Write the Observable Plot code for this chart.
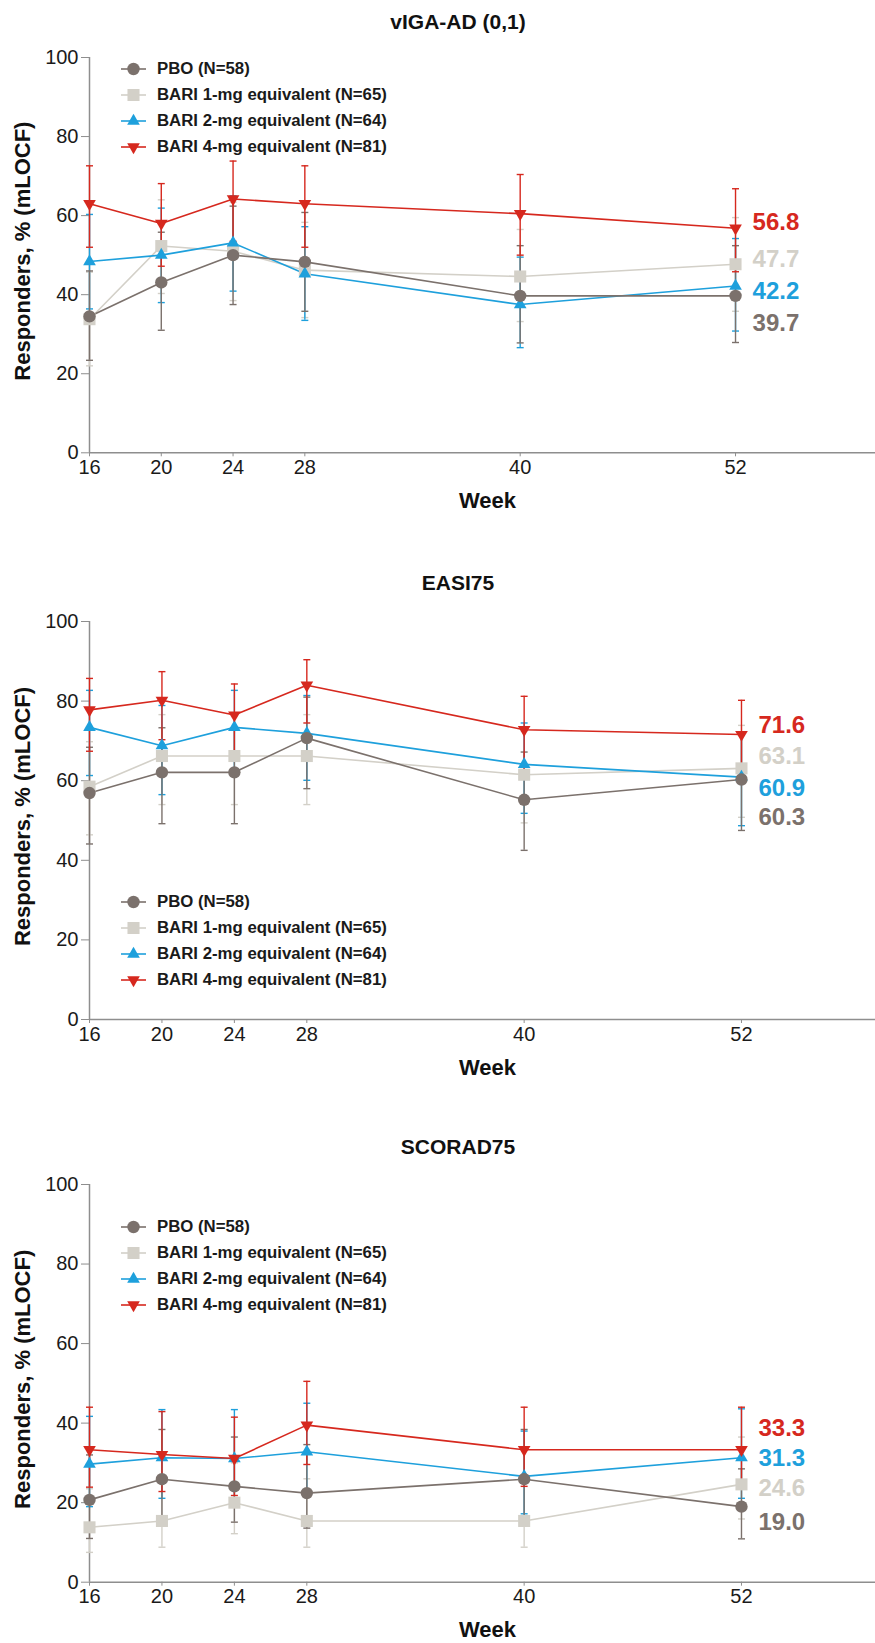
<!DOCTYPE html>
<html>
<head>
<meta charset="utf-8">
<script src="https://cdn.jsdelivr.net/npm/d3@7"></script>
<script src="https://cdn.jsdelivr.net/npm/@observablehq/plot@0.6"></script>
<style>
  html, body { margin: 0; padding: 0; background: #fff; }
  body { font-family: Arial, "Liberation Sans", Helvetica, sans-serif; }
  #root { position: relative; width: 875px; height: 1643px; overflow: hidden; }
  .panel { position: absolute; left: 0; width: 875px; }
  .ptitle { position: absolute; top: 10px; left: 458px; transform: translateX(-50%);
            font-size: 21px; font-weight: bold; color: #111; white-space: nowrap; line-height: 24px; }
  .pchart { position: absolute; left: 0; top: 40px; }
  .pchart svg { display: block; }
  .legend { position: absolute; left: 118px; }
  .lrow { position: absolute; left: 0; height: 26px; display: flex; align-items: center; white-space: nowrap; }
  .lrow span { font-size: 16.8px; font-weight: bold; color: #1a1a1a; margin-left: 8px; }
</style>
</head>
<body>
<div id="root"></div>
<script>
// ---------- data ----------
const weeks = [16, 20, 24, 28, 40, 52];
const groups = ["PBO (N=58)", "BARI 1-mg equivalent (N=65)", "BARI 2-mg equivalent (N=64)", "BARI 4-mg equivalent (N=81)"];
const groupColors = ["#7b716c", "#d3d0c8", "#1ea0dc", "#d6281e"];
const titles = ["vIGA-AD (0,1)", "EASI75", "SCORAD75"];
const yTicks = [0, 20, 40, 60, 80, 100];
const yLabel = "Responders, % (mLOCF)";
const xLabel = "Week";

// vIGA-AD (0,1): rows = PBO, BARI 1-mg, BARI 2-mg, BARI 4-mg
const vigaValues = [
  [34.5, 43.1, 50.0, 48.3, 39.7, 39.7],
  [33.8, 52.3, 51.0, 46.2, 44.6, 47.7],
  [48.4, 50.0, 53.1, 45.3, 37.5, 42.2],
  [63.0, 58.0, 64.2, 63.0, 60.5, 56.8]
];
const vigaLower = [
  [23.4, 31.0, 37.5, 35.8, 27.8, 27.9],
  [22.0, 40.3, 38.5, 34.2, 33.2, 35.8],
  [36.4, 38.0, 40.9, 33.5, 26.6, 30.8],
  [52.0, 47.2, 53.5, 52.0, 50.0, 45.8]
];
const vigaUpper = [
  [46.0, 55.8, 62.4, 60.8, 52.4, 52.4],
  [45.7, 64.0, 63.4, 58.3, 56.5, 59.5],
  [60.3, 61.9, 65.0, 57.2, 49.5, 54.2],
  [72.6, 68.1, 73.8, 72.6, 70.4, 66.8]
];
const vigaLabelY = [32.7, 48.9, 40.9, 58.4];

// EASI75
const easiValues = [
  [56.9, 62.1, 62.1, 70.7, 55.2, 60.3],
  [58.5, 66.2, 66.2, 66.2, 61.5, 63.1],
  [73.4, 68.8, 73.4, 71.9, 64.1, 60.9],
  [77.8, 80.2, 76.5, 84.0, 72.8, 71.6]
];
const easiLower = [
  [44.1, 49.2, 49.2, 58.0, 42.5, 47.5],
  [46.4, 54.0, 54.0, 54.0, 49.4, 50.8],
  [61.3, 56.5, 63.0, 60.1, 51.8, 48.7],
  [67.4, 70.3, 66.0, 74.5, 62.5, 61.0]
];
const easiUpper = [
  [68.4, 73.3, 73.3, 81.0, 67.2, 72.0],
  [69.8, 76.6, 76.6, 76.6, 72.5, 73.9],
  [82.7, 78.9, 82.7, 81.4, 74.5, 71.5],
  [85.7, 87.4, 84.3, 90.4, 81.2, 80.2]
];
const easiLabelY = [50.7, 66.1, 58.2, 74.0];

// SCORAD75
const scoradValues = [
  [20.7, 25.9, 24.1, 22.4, 25.9, 19.0],
  [13.8, 15.4, 20.0, 15.4, 15.4, 24.6],
  [29.7, 31.3, 31.1, 32.8, 26.6, 31.3],
  [33.3, 32.1, 31.1, 39.5, 33.3, 33.3]
];
const scoradLower = [
  [11.0, 14.3, 15.1, 13.6, 14.5, 10.9],
  [7.5, 8.8, 12.2, 8.8, 8.8, 15.9],
  [19.0, 21.1, 20.5, 21.5, 17.2, 21.1],
  [23.9, 22.8, 21.8, 29.6, 24.1, 23.5]
];
const scoradUpper = [
  [32.0, 38.4, 36.5, 34.6, 38.4, 28.5],
  [23.5, 25.5, 30.0, 26.0, 25.5, 36.5],
  [41.7, 43.4, 43.4, 45.0, 38.0, 43.6],
  [44.0, 42.9, 41.5, 50.5, 44.0, 44.0]
];
const scoradLabelY = [15.1, 23.6, 31.2, 38.7];

// ---------- layout ----------
const FONT = "Arial, 'Liberation Sans', Helvetica, sans-serif";
const AXIS = "#8e8e8e";
const drawOrder = [1, 2, 0, 3];

const triDown = {
  draw(ctx, size) {
    const y = -Math.sqrt(size / (Math.sqrt(3) * 3));
    ctx.moveTo(0, -y * 2);
    ctx.lineTo(-Math.sqrt(3) * y, y);
    ctx.lineTo(Math.sqrt(3) * y, y);
    ctx.closePath();
  }
};
const capSymbol = {
  draw(ctx) { ctx.moveTo(-3.5, 0); ctx.lineTo(3.5, 0); }
};
const groupSymbols = ["circle", "square", "triangle", triDown];
const groupR = [6.2, 6.8, 4.7, 4.7];

const panelData = [
  {values: vigaValues, lower: vigaLower, upper: vigaUpper, labelY: vigaLabelY},
  {values: easiValues, lower: easiLower, upper: easiUpper, labelY: easiLabelY},
  {values: scoradValues, lower: scoradLower, upper: scoradUpper, labelY: scoradLabelY}
];
const panelLayout = [
  {top: 0,    height: 521, mt: 17, mb: 108.7, xmax: 59.8, legendTop: 56},
  {top: 561,  height: 524, mt: 20, mb: 106,   xmax: 59.4, legendTop: 328},
  {top: 1125, height: 478, mt: 19, mb: 61.3,  xmax: 59.4, legendTop: 89}
];

const root = document.getElementById("root");

panelData.forEach((pd, pi) => {
  const L = panelLayout[pi];
  const rows = groups.flatMap((g, gi) => weeks.map((w, wi) => ({
    gi, week: w, value: pd.values[gi][wi], lo: pd.lower[gi][wi], hi: pd.upper[gi][wi]
  })));
  const ends = groups.map((g, gi) => ({
    gi, week: weeks[weeks.length - 1], y: pd.labelY[gi], text: pd.values[gi][weeks.length - 1].toFixed(1)
  }));

  const marks = [
    Plot.ruleY([0], {stroke: AXIS, strokeWidth: 1.5}),
    Plot.ruleX([16], {y1: 0, y2: 100, stroke: AXIS, strokeWidth: 1.5}),
    Plot.axisY({ticks: yTicks, tickSize: 8, tickPadding: 3, fontSize: 20, stroke: AXIS, fill: "#1a1a1a", label: null}),
    Plot.axisX({ticks: weeks, tickSize: 4, tickPadding: 3, fontSize: 20, stroke: AXIS, fill: "#1a1a1a", label: null})
  ];
  // error bars
  for (const gi of drawOrder) {
    const d = rows.filter(r => r.gi === gi);
    const c = groupColors[gi];
    marks.push(Plot.ruleX(d, {x: "week", y1: "lo", y2: "hi", stroke: c, strokeWidth: 1.4}));
    marks.push(Plot.dot(d, {x: "week", y: "hi", symbol: capSymbol, r: 3, fill: "none", stroke: c, strokeWidth: 1.4}));
    marks.push(Plot.dot(d, {x: "week", y: "lo", symbol: capSymbol, r: 3, fill: "none", stroke: c, strokeWidth: 1.4}));
  }
  // lines
  for (const gi of drawOrder) {
    const d = rows.filter(r => r.gi === gi);
    marks.push(Plot.line(d, {x: "week", y: "value", stroke: groupColors[gi], strokeWidth: 1.6}));
  }
  // markers
  for (const gi of drawOrder) {
    const d = rows.filter(r => r.gi === gi);
    marks.push(Plot.dot(d, {x: "week", y: "value", symbol: groupSymbols[gi], r: groupR[gi], fill: groupColors[gi], stroke: "none"}));
  }
  // end labels
  marks.push(Plot.text(ends, {x: "week", y: "y", text: "text", dx: 17, textAnchor: "start",
    fill: d => groupColors[d.gi], fontSize: 24, fontWeight: "bold"}));
  // axis titles
  marks.push(Plot.text([yLabel], {text: d => d, frameAnchor: "left", textAnchor: "middle", rotate: -90, dx: -67, dy: -4,
    fontSize: 22, fontWeight: "bold", fill: "#111"}));
  marks.push(Plot.text([xLabel], {text: d => d, frameAnchor: "bottom", textAnchor: "middle", dx: 5, dy: 55,
    fontSize: 22, fontWeight: "bold", fill: "#111"}));

  const chart = Plot.plot({
    width: 875, height: L.height,
    marginLeft: 89, marginRight: 0, marginTop: L.mt, marginBottom: L.mb,
    x: {domain: [16, L.xmax]},
    y: {domain: [0, 100]},
    style: {fontFamily: FONT, background: "white", overflow: "visible"},
    marks
  });

  const panel = document.createElement("div");
  panel.className = "panel";
  panel.style.top = L.top + "px";
  panel.style.height = (40 + L.height) + "px";

  const t = document.createElement("div");
  t.className = "ptitle";
  t.textContent = titles[pi];
  panel.appendChild(t);

  const cw = document.createElement("div");
  cw.className = "pchart";
  cw.appendChild(chart);
  panel.appendChild(cw);

  // legend
  const leg = document.createElement("div");
  leg.className = "legend";
  leg.style.top = L.legendTop + "px";
  groups.forEach((g, gi) => {
    const row = document.createElement("div");
    row.className = "lrow";
    row.style.top = (gi * 26) + "px";
    const s = d3.create("svg").attr("width", 31).attr("height", 26);
    s.append("line").attr("x1", 3).attr("x2", 28).attr("y1", 13).attr("y2", 13)
      .attr("stroke", groupColors[gi]).attr("stroke-width", 1.6);
    const sym = groupSymbols[gi] === triDown ? triDown
      : {circle: d3.symbolCircle, square: d3.symbolSquare, triangle: d3.symbolTriangle}[groupSymbols[gi]];
    s.append("path").attr("transform", "translate(15.5,13)")
      .attr("d", d3.symbol(sym, Math.PI * groupR[gi] * groupR[gi])())
      .attr("fill", groupColors[gi]);
    row.appendChild(s.node());
    const sp = document.createElement("span");
    sp.textContent = g;
    row.appendChild(sp);
    leg.appendChild(row);
  });
  panel.appendChild(leg);

  root.appendChild(panel);
});
</script>
</body>
</html>
